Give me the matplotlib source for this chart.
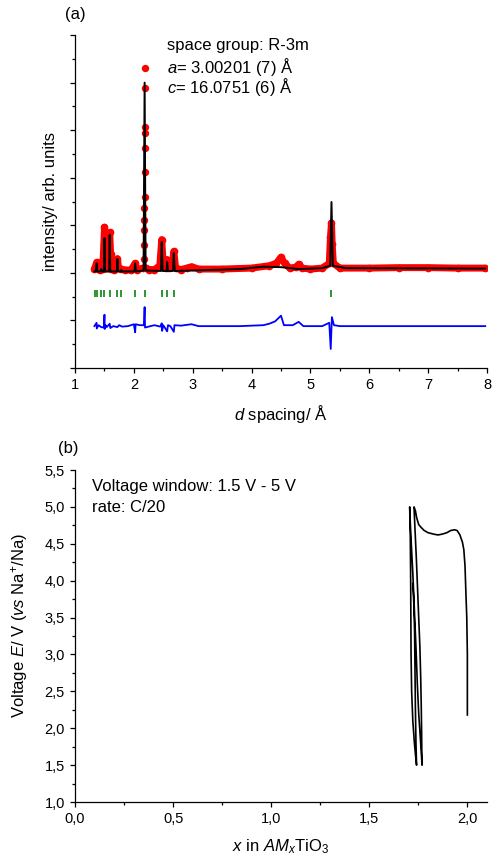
import matplotlib
matplotlib.use("Agg")
import matplotlib.pyplot as plt
from matplotlib.ticker import MultipleLocator, FuncFormatter

plt.rcParams['font.family'] = ['Liberation Sans', 'DejaVu Sans']
plt.rcParams['mathtext.fontset'] = 'custom'
plt.rcParams['mathtext.rm'] = 'Liberation Sans'
plt.rcParams['mathtext.it'] = 'Liberation Sans:italic'

# (a) diffraction profile: observed, calculated, difference, reflections
d_obs = [1.33, 1.35, 1.367, 1.39, 1.42, 1.445, 1.47, 1.49, 1.501, 1.51, 1.53, 1.56,
         1.575, 1.59, 1.605, 1.62, 1.66, 1.70, 1.721, 1.74, 1.786, 1.85, 1.95, 2.022,
         2.05, 2.15, 2.21, 2.25, 2.35, 2.44, 2.474, 2.50, 2.54, 2.566, 2.59, 2.65,
         2.679, 2.71, 2.8, 2.9, 2.98, 3.1, 3.5, 4.0, 4.3, 4.42, 4.5, 4.56, 4.65,
         4.75, 4.8, 4.86, 5.0, 5.2, 5.32, 5.34, 5.358, 5.37, 5.39, 5.5, 6.0, 6.5,
         7.0, 7.5, 7.97]
i_obs = [2.08, 2.15, 2.22, 2.08, 2.07, 2.12, 2.08, 2.6, 2.96, 2.5, 2.1, 2.1,
         2.5, 2.85, 2.4, 2.08, 2.07, 2.12, 2.3, 2.1, 2.08, 2.06, 2.06, 2.2,
         2.07, 2.1, 2.1, 2.07, 2.07, 2.15, 2.7, 2.15, 2.1, 2.28, 2.1, 2.15,
         2.45, 2.1, 2.07, 2.1, 2.13, 2.08, 2.08, 2.1, 2.15, 2.2, 2.33, 2.2, 2.1,
         2.12, 2.18, 2.1, 2.08, 2.1, 2.2, 2.75, 3.05, 2.6, 2.2, 2.1, 2.1, 2.11,
         2.11, 2.1, 2.1]

# observed points on the strongest reflection
d_obs_peak = [2.176, 2.178, 2.179, 2.180, 2.181, 2.182, 2.183, 2.184, 2.185, 2.186, 2.187, 2.188]
i_obs_peak = [2.3, 2.58, 2.9, 3.11, 3.36, 3.59, 4.12, 4.62, 4.94, 5.06, 5.88, 6.3]

d_calc = [1.33, 1.355, 1.367, 1.38, 1.43, 1.445, 1.46, 1.49, 1.501, 1.512, 1.58, 1.59,
          1.60, 1.71, 1.721, 1.732, 1.78, 1.786, 1.795, 2.01, 2.022, 2.035, 2.165,
          2.183, 2.20, 2.46, 2.474, 2.488, 2.555, 2.566, 2.578, 2.665, 2.679, 2.695,
          3.0, 3.8, 4.2, 4.5, 4.8, 5.2, 5.335, 5.358, 5.38, 5.6, 7.97]
i_calc = [2.03, 2.03, 2.2, 2.03, 2.03, 2.08, 2.03, 2.03, 2.73, 2.03, 2.03, 2.8,
          2.03, 2.03, 2.29, 2.03, 2.03, 2.06, 2.03, 2.03, 2.2, 2.03, 2.05,
          6.0, 2.05, 2.04, 2.65, 2.04, 2.04, 2.23, 2.04, 2.04, 2.42, 2.04,
          2.05, 2.08, 2.13, 2.12, 2.08, 2.1, 2.15, 3.49, 2.15, 2.1, 2.09]

d_diff = [1.33, 1.367, 1.37, 1.40, 1.445, 1.49, 1.501, 1.505, 1.52, 1.54, 1.59, 1.60,
          1.65, 1.72, 1.75, 1.8, 1.9, 2.0, 2.022, 2.03, 2.1, 2.17, 2.183, 2.19, 2.25,
          2.35, 2.45, 2.474, 2.48, 2.5, 2.566, 2.58, 2.62, 2.679, 2.69, 2.8, 2.98,
          3.1, 3.8, 4.2, 4.3, 4.4, 4.5, 4.55, 4.7, 4.8, 4.88, 5.2, 5.32, 5.345,
          5.365, 5.40, 5.5, 7.97]
i_diff = [0.88, 0.95, 0.83, 0.9, 0.86, 0.85, 1.12, 0.82, 0.9, 0.86, 0.93, 0.84,
          0.88, 0.86, 0.9, 0.87, 0.88, 0.92, 0.75, 0.92, 0.9, 0.9, 1.28, 0.85, 0.87,
          0.9, 0.87, 0.94, 0.78, 0.9, 0.77, 0.9, 0.88, 0.76, 0.9, 0.89, 0.92,
          0.88, 0.88, 0.9, 0.93, 0.98, 1.1, 0.9, 0.9, 0.97, 0.88, 0.88, 0.95, 0.4,
          1.07, 0.9, 0.88, 0.88]

d_refl = [1.340, 1.367, 1.445, 1.501, 1.590, 1.721, 1.786, 2.022, 2.183, 2.474, 2.566, 2.679, 5.358]
refl_lo, refl_hi = 1.49, 1.64

# (b) galvanostatic cycling, voltage vs x in AM_xTiO3
x_echem = [2.000, 2.000, 1.997, 1.993, 1.988, 1.982, 1.975, 1.962, 1.948, 1.935,
           1.915, 1.895, 1.870, 1.850, 1.830, 1.800, 1.780, 1.765, 1.752, 1.742,
           1.735, 1.728,
           1.733, 1.740, 1.746, 1.752, 1.758, 1.762, 1.765, 1.767, 1.768, 1.769,
           1.762, 1.752, 1.745, 1.738, 1.730, 1.722, 1.714, 1.708, 1.706,
           1.709, 1.711, 1.712, 1.713, 1.716, 1.722, 1.730, 1.737, 1.741,
           1.738, 1.735, 1.733, 1.731, 1.727, 1.722]
v_echem = [2.18, 3.0, 3.5, 3.8, 4.2, 4.42, 4.52, 4.62, 4.68, 4.69,
           4.68, 4.65, 4.63, 4.62, 4.63, 4.65, 4.68, 4.72, 4.76, 4.85,
           4.95, 5.0,
           4.7, 4.3, 3.9, 3.5, 3.1, 2.7, 2.3, 1.9, 1.6, 1.5,
           1.8, 2.2, 2.6, 3.1, 3.6, 4.1, 4.5, 4.85, 5.0,
           4.6, 4.0, 3.5, 3.0, 2.5, 2.1, 1.8, 1.6, 1.5,
           1.8, 2.3, 2.8, 3.3, 3.7, 3.96]

fig = plt.figure(figsize=(4.94, 8.61), dpi=100)
ax1 = fig.add_axes([0.1518, 0.5726, 0.834, 0.3867])
ax2 = fig.add_axes([0.1518, 0.0685, 0.834, 0.3856])

for ax in (ax1, ax2):
    ax.spines['top'].set_visible(False)
    ax.spines['right'].set_visible(False)
    for s in ('left', 'bottom'):
        ax.spines[s].set_linewidth(0.9)
    ax.tick_params(which='major', direction='out', length=3.8, width=0.9, labelsize=10.5)
    ax.tick_params(which='minor', direction='out', length=2.2, width=0.9)

# panel (a)
ax1.plot(d_obs, i_obs, color='#ff0000', lw=5, solid_capstyle='round', zorder=2)
ax1.plot(d_obs, i_obs, 'o', color='#ff0000', ms=4.5, zorder=2)
ax1.plot(d_obs_peak, i_obs_peak, 'o', color='#ff0000', ms=4.3, zorder=2)
ax1.plot(d_calc, i_calc, color='black', lw=1.4, zorder=3)
ax1.plot(d_diff, i_diff, color='#0000ff', lw=1.3, zorder=3)
ax1.vlines(d_refl, refl_lo, refl_hi, color='#1f8f1f', lw=1.3)

ax1.set_xlim(1, 8)
ax1.set_ylim(0, 7)
ax1.xaxis.set_major_locator(MultipleLocator(1))
ax1.xaxis.set_minor_locator(MultipleLocator(0.5))
ax1.yaxis.set_major_locator(MultipleLocator(1))
ax1.yaxis.set_minor_locator(MultipleLocator(0.5))
ax1.set_yticklabels([])
ax1.set_xlabel('$d$ spacing/ Å', fontsize=12)
ax1.xaxis.set_label_coords(0.5, -0.105)
ax1.set_ylabel('intensity/ arb. units', fontsize=12)
ax1.yaxis.set_label_coords(-0.041, 0.5)

ax1.text(2.56, 6.79, 'space group: R-3m', fontsize=12, va='center')
ax1.text(2.56, 6.33, '$a$= 3.00201 (7) Å', fontsize=12, va='center')
ax1.text(2.56, 5.9, '$c$= 16.0751 (6) Å', fontsize=12, va='center')

fig.text(65 / 494, 1 - 15 / 861, '(a)', fontsize=12, va='center', ha='left')

# panel (b)
ax2.plot(x_echem, v_echem, color='black', lw=1.2)
ax2.set_xlim(0, 2.1)
ax2.set_ylim(1.0, 5.5)
ax2.xaxis.set_major_locator(MultipleLocator(0.5))
ax2.xaxis.set_minor_locator(MultipleLocator(0.25))
ax2.yaxis.set_major_locator(MultipleLocator(0.5))
ax2.yaxis.set_minor_locator(MultipleLocator(0.25))
comma = FuncFormatter(lambda v, p: f"{v:.1f}".replace('.', ','))
ax2.xaxis.set_major_formatter(comma)
ax2.yaxis.set_major_formatter(comma)
ax2.set_xlabel('$x$ in $AM_x$TiO$_3$', fontsize=12)
ax2.xaxis.set_label_coords(0.5, -0.105)
ax2.set_ylabel('Voltage $E$/ V ($vs$ Na$^{+}$/Na)', fontsize=12)
ax2.yaxis.set_label_coords(-0.109, 0.53)

ax2.text(0.087, 5.28, 'Voltage window: 1.5 V - 5 V', fontsize=12, va='center')
ax2.text(0.087, 4.99, 'rate: C/20', fontsize=12, va='center')

fig.text(58 / 494, 1 - 448 / 861, '(b)', fontsize=12, va='center', ha='left')

fig.savefig('out.png', dpi=100)
